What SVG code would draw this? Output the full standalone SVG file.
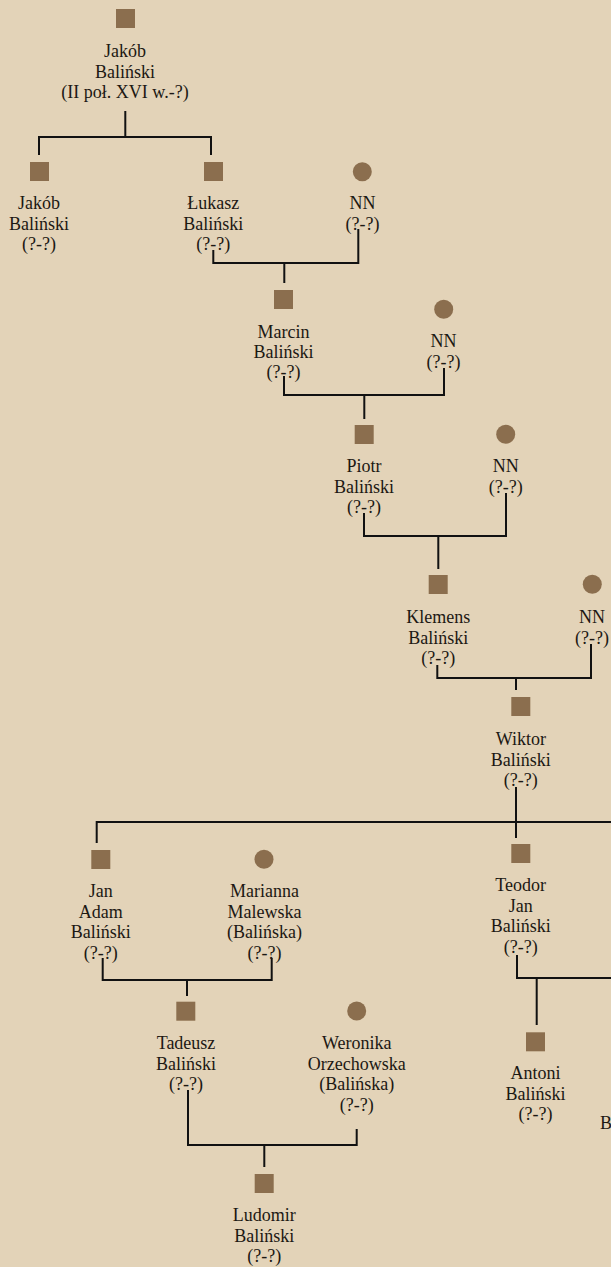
<svg xmlns="http://www.w3.org/2000/svg" width="611" height="1267" viewBox="0 0 611 1267">
<style>
.bg{fill:#E3D3B8}
.m{fill:#8B6E4E}
.f{fill:#8B6E4E}
text{font-family:"Liberation Serif","DejaVu Serif",serif;font-size:18px;fill:#1c1813;text-anchor:middle}
.c path{fill:none;stroke:#111;stroke-width:2;stroke-linecap:butt;stroke-linejoin:miter}
</style>
<rect class="bg" x="0" y="0" width="611" height="1267"/>
<g class="c" id="connectors">
<path d="M125.3 111V137M39 155V137H211V155"/>
<path d="M213.3 250V263H358.3V229M284.3 263V283"/>
<path d="M284 376V395H444V368M364.3 395V419"/>
<path d="M364 513V536H506V493M438.3 536V569"/>
<path d="M437.3 665V678H591V644M516 678V690"/>
<path d="M516 787V838M96.7 843V822H611"/>
<path d="M102.7 958V980H271.7V958M187 980V996"/>
<path d="M517 955V978H611M536.7 978V1025"/>
<path d="M188 1090V1145H356.7V1129M264.3 1145V1167"/>
</g>
<g id="n1"><rect class="m" x="116" y="9" width="19" height="19"/><text x="125" y="57">Jakób</text><text x="125" y="77.5">Baliński</text><text x="125" y="98">(II poł. XVI w.-?)</text></g>
<g id="n2"><rect class="m" x="30" y="162" width="19" height="19"/><text x="39" y="209">Jakób</text><text x="39" y="229.5">Baliński</text><text x="39" y="250">(?-?)</text></g>
<g id="n3"><rect class="m" x="204" y="162" width="19" height="19"/><text x="213.3" y="209">Łukasz</text><text x="213.3" y="229.5">Baliński</text><text x="213.3" y="250">(?-?)</text></g>
<g id="n4"><circle class="f" cx="362.3" cy="171.7" r="9.5"/><text x="362.5" y="209">NN</text><text x="362.5" y="229.5">(?-?)</text></g>
<g id="n5"><rect class="m" x="274" y="290" width="19" height="19"/><text x="283.5" y="338">Marcin</text><text x="283.5" y="358">Baliński</text><text x="283.5" y="378">(?-?)</text></g>
<g id="n6"><circle class="f" cx="443.7" cy="309.3" r="9.5"/><text x="443.5" y="347">NN</text><text x="443.5" y="367.5">(?-?)</text></g>
<g id="n7"><rect class="m" x="354.7" y="425" width="19" height="19"/><text x="364" y="472">Piotr</text><text x="364" y="492.5">Baliński</text><text x="364" y="513">(?-?)</text></g>
<g id="n8"><circle class="f" cx="505.7" cy="434.3" r="9.5"/><text x="505.7" y="472">NN</text><text x="505.7" y="492.5">(?-?)</text></g>
<g id="n9"><rect class="m" x="428.7" y="575" width="19" height="19"/><text x="438.3" y="623.3">Klemens</text><text x="438.3" y="643.5">Baliński</text><text x="438.3" y="664">(?-?)</text></g>
<g id="n10"><circle class="f" cx="592.3" cy="584.3" r="9.5"/><text x="592" y="623.3">NN</text><text x="592" y="643.5">(?-?)</text></g>
<g id="n11"><rect class="m" x="511.3" y="697" width="19" height="19"/><text x="520.8" y="745">Wiktor</text><text x="520.8" y="765.5">Baliński</text><text x="520.8" y="786">(?-?)</text></g>
<g id="n12"><rect class="m" x="91.3" y="850" width="19" height="19"/><text x="100.7" y="897">Jan</text><text x="100.7" y="917.5">Adam</text><text x="100.7" y="938">Baliński</text><text x="100.7" y="958.5">(?-?)</text></g>
<g id="n13"><circle class="f" cx="264" cy="859.3" r="9.5"/><text x="264.5" y="897">Marianna</text><text x="264.5" y="917.5">Malewska</text><text x="264.5" y="938">(Balińska)</text><text x="264.5" y="958.5">(?-?)</text></g>
<g id="n14"><rect class="m" x="511.3" y="844" width="19" height="19"/><text x="520.7" y="891">Teodor</text><text x="520.7" y="911.5">Jan</text><text x="520.7" y="932">Baliński</text><text x="520.7" y="952.5">(?-?)</text></g>
<g id="n15"><rect class="m" x="176.3" y="1001.7" width="19" height="19"/><text x="186" y="1049">Tadeusz</text><text x="186" y="1069.5">Baliński</text><text x="186" y="1090">(?-?)</text></g>
<g id="n16"><circle class="f" cx="356.7" cy="1011" r="9.5"/><text x="356.7" y="1049">Weronika</text><text x="356.7" y="1069.5">Orzechowska</text><text x="356.7" y="1090">(Balińska)</text><text x="356.7" y="1110.5">(?-?)</text></g>
<g id="n17"><rect class="m" x="526" y="1032.3" width="19" height="19"/><text x="535.5" y="1079">Antoni</text><text x="535.5" y="1099.5">Baliński</text><text x="535.5" y="1120">(?-?)</text></g>
<g id="n18"><text x="600" y="1129" style="text-anchor:start">B</text></g>
<g id="n19"><rect class="m" x="254.7" y="1174" width="19" height="19"/><text x="264.2" y="1221">Ludomir</text><text x="264.2" y="1241.5">Baliński</text><text x="264.2" y="1262">(?-?)</text></g>
</svg>
